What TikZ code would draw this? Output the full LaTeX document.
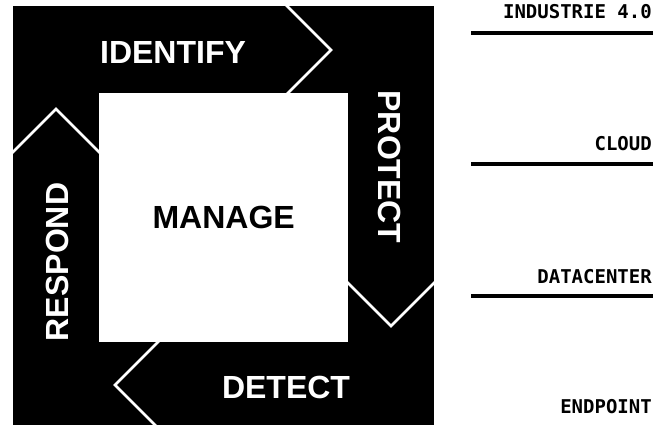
\documentclass[tikz,border=0pt]{standalone}
\usepackage{fontspec}
\setmainfont{Liberation Sans}
\newfontfamily\tagfont{DejaVu Sans Mono}
\begin{document}
\begin{tikzpicture}[x=1pt,y=-1pt,
  band/.style={text=white,font=\fontsize{32}{32}\selectfont\bfseries,inner sep=0pt},
  sepline/.style={draw=white,line width=2.6pt,line join=miter},
  tag/.style={font=\tagfont\bfseries\fontsize{19}{19}\selectfont,anchor=base east,inner sep=0pt},
  rulebar/.style={line width=4pt}]
\useasboundingbox (0,0) rectangle (666,425);
\fill[black] (13,6) rectangle (434,428);
\node[fill=white,minimum size=249pt,inner sep=0pt,anchor=north west,
      font=\fontsize{32}{32}\selectfont\bfseries] (manage) at (99,93) {MANAGE};
% chevron separators
\draw[sepline] (284,3) -- (331,50) -- (285,96);
\draw[sepline] (346,281) -- (391,326) -- (437,280);
\draw[sepline] (160,340) -- (115,385) -- (160,430);
\draw[sepline] (10,155) -- (56,109) -- (102,155);
% band labels
\node[band] (identify) at (173,52) {IDENTIFY};
\node[band,rotate=-90] (protect) at (390,167) {PROTECT};
\node[band] (detect) at (286,387) {DETECT};
\node[band,rotate=90] (respond) at (57,262) {RESPOND};
% right column
\node[tag] (ind) at (652,19) {INDUSTRIE 4.0};
\node[tag] (cloud) at (652,150) {CLOUD};
\node[tag] (dc) at (652,283) {DATACENTER};
\node[tag] (ep) at (652,413) {ENDPOINT};
\coordinate (l1a) at (471,33); \coordinate (l1b) at (653,33);
\coordinate (l2a) at (471,164); \coordinate (l2b) at (653,164);
\coordinate (l3a) at (471,296); \coordinate (l3b) at (653,296);
\draw[rulebar] (l1a) -- (l1b);
\draw[rulebar] (l2a) -- (l2b);
\draw[rulebar] (l3a) -- (l3b);
\end{tikzpicture}
\end{document}
